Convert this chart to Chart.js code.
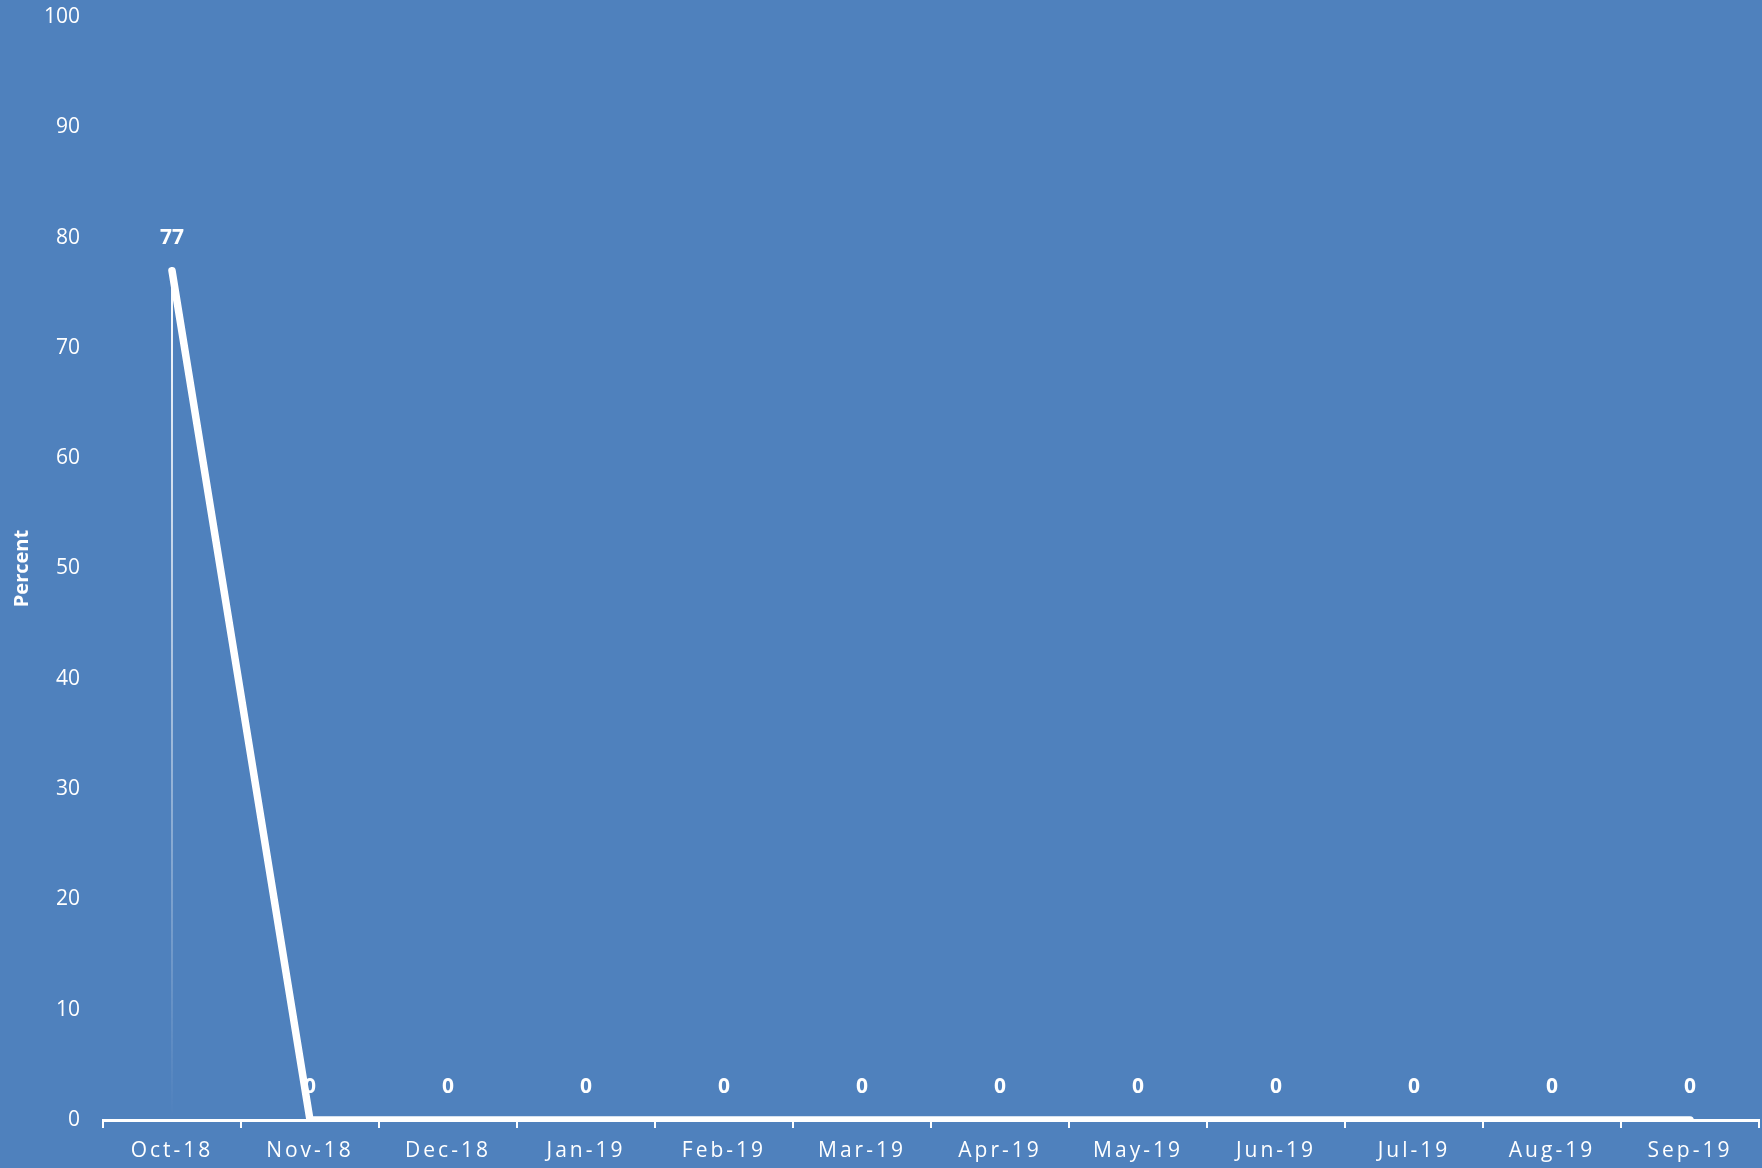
<!DOCTYPE html>
<html>
<head>
<meta charset="utf-8">
<script src="https://cdn.jsdelivr.net/npm/chart.js@4.4.0/dist/chart.umd.min.js"></script>
<style>
  html, body { margin: 0; padding: 0; background: #4f81bd; overflow: hidden; }
  canvas { display: block; }
</style>
</head>
<body>
<canvas id="chart" width="1762" height="1168"></canvas>
<script>
    // Chart data
    const months = ['Oct-18', 'Nov-18', 'Dec-18', 'Jan-19', 'Feb-19', 'Mar-19',
                    'Apr-19', 'May-19', 'Jun-19', 'Jul-19', 'Aug-19', 'Sep-19'];
    const percentValues = [77, 0, 0, 0, 0, 0, 0, 0, 0, 0, 0, 0];
    const yTicks = [0, 10, 20, 30, 40, 50, 60, 70, 80, 90, 100];

    const white = '#ffffff';
    const fontFamily = "'Open Sans', 'DejaVu Sans', sans-serif";

    // Faded drop line under the first point + bold value labels
    const markersPlugin = {
        id: 'markers',
        beforeDatasetsDraw(chart) {
            const ctx = chart.ctx;
            const meta = chart.getDatasetMeta(0);
            const pt = meta.data[0];
            const bottom = chart.scales.y.getPixelForValue(0);
            const grad = ctx.createLinearGradient(0, pt.y, 0, bottom);
            grad.addColorStop(0, 'rgba(255,255,255,1)');
            grad.addColorStop(1, 'rgba(255,255,255,0)');
            ctx.save();
            ctx.strokeStyle = grad;
            ctx.lineWidth = 2;
            ctx.beginPath();
            ctx.moveTo(pt.x, pt.y);
            ctx.lineTo(pt.x, bottom);
            ctx.stroke();
            ctx.restore();
        },
        afterDatasetsDraw(chart) {
            const ctx = chart.ctx;
            const meta = chart.getDatasetMeta(0);
            ctx.save();
            ctx.fillStyle = white;
            ctx.font = 'bold 21px ' + fontFamily;
            ctx.textAlign = 'center';
            ctx.textBaseline = 'middle';
            meta.data.forEach((el, i) => {
                ctx.fillText(String(percentValues[i]), el.x, el.y - 33);
            });
            ctx.restore();
        }
    };

    const chart = new Chart(document.getElementById('chart'), {
        type: 'line',
        data: {
            labels: months,
            datasets: [{
                data: percentValues,
                borderColor: white,
                borderWidth: 7.5,
                borderCapStyle: 'round',
                borderJoinStyle: 'round',
                pointRadius: 0,
                tension: 0,
                fill: false
            }]
        },
        options: {
            responsive: false,
            animation: false,
            layout: { padding: { top: 17, right: 3, left: 0, bottom: 0 } },
            plugins: {
                legend: { display: false },
                tooltip: { enabled: false }
            },
            scales: {
                x: {
                    offset: true,
                    grid: {
                        offset: true,
                        drawOnChartArea: false,
                        drawTicks: true,
                        tickLength: 8,
                        color: white,
                        lineWidth: 2
                    },
                    border: { display: true, color: white, width: 3 },
                    ticks: {
                        color: white,
                        font: { family: fontFamily, size: 21 },
                        padding: 10,
                        maxRotation: 0,
                        autoSkip: false
                    },
                    afterFit(scale) {
                        scale.height = 48;
                        scale.paddingLeft = 0;
                        scale.paddingRight = 0;
                    }
                },
                y: {
                    min: 0,
                    max: 100,
                    afterBuildTicks(scale) {
                        scale.ticks = yTicks.map(v => ({ value: v }));
                    },
                    grid: { display: false, drawTicks: false },
                    border: { display: false },
                    ticks: {
                        color: white,
                        font: { family: fontFamily, size: 21 },
                        padding: 23
                    },
                    title: {
                        display: true,
                        text: 'Percent',
                        color: white,
                        font: { family: fontFamily, size: 20, weight: 'bold' },
                        padding: { top: 10, bottom: 0 }
                    },
                    afterFit(scale) {
                        scale.width = 103;
                        scale.paddingTop = 0;
                        scale.paddingBottom = 0;
                    }
                }
            }
        },
        plugins: [markersPlugin]
    });

    // Month labels are letter-spaced in the original
    const xScale = chart.scales.x;
    const baseDrawLabels = xScale.drawLabels;
    xScale.drawLabels = function (area) {
        this.ctx.save();
        this.ctx.letterSpacing = '3px';
        baseDrawLabels.call(this, area);
        this.ctx.restore();
    };
    chart.draw();
</script>
</body>
</html>
